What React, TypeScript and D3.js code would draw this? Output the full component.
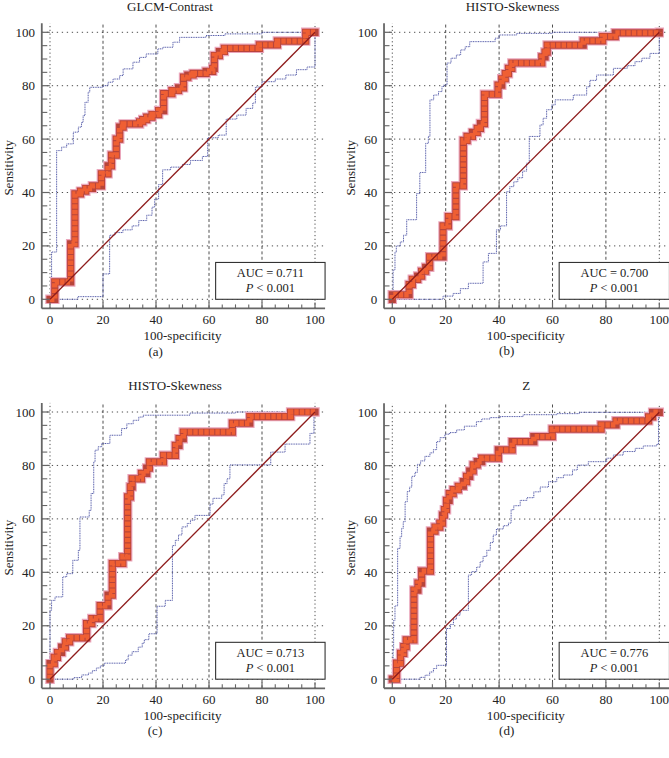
import React from 'react'
import * as d3 from 'd3'

type Pt = [number, number]

// ROC curves (100-specificity, sensitivity)
const rocA: Pt[] = [[0, 0], [1.8, 6.5], [7.8, 20.8], [9.4, 39.5], [11.5, 40.5], [13.5, 41.5], [16, 42.5], [19.4, 47], [21.9, 50], [23.2, 54], [25, 60], [26.3, 64.5], [27.6, 65.7], [33.8, 66.5], [35, 67.3], [36.5, 68.2], [38.5, 69.2], [41, 70.7], [42.9, 77], [46, 78.2], [48.5, 79.2], [50.4, 83.2], [52, 84], [54, 84.6], [58.9, 85.4], [61.4, 86.5], [62, 91.3], [63.9, 92.8], [65.8, 94], [79, 95.3], [85.8, 96.7], [96.5, 100], [100, 100]]
const upperA: Pt[] = [[0, 0], [0.6, 17.7], [2.5, 55.7], [4.4, 57], [6.3, 58.2], [8.8, 62.6], [10.7, 64.5], [11.9, 66.3], [12.5, 68.8], [13.2, 73.8], [14.4, 77.6], [15, 79.4], [20, 80], [21.9, 81.3], [23.8, 82.5], [26.3, 83.8], [27.6, 86.3], [31.3, 88.8], [33.8, 90.6], [36.3, 91.9], [40.7, 93.8], [42.6, 94.4], [46.4, 96.3], [48.9, 98.1], [58.9, 98.8], [66, 99.4], [80, 100], [100, 100]]
const lowerA: Pt[] = [[0, 0], [10.5, 1], [20, 9.5], [22.5, 24], [24.5, 25], [27.5, 26], [31, 27.5], [33.5, 29.5], [36.5, 31.5], [38.5, 34.5], [39.5, 37.5], [41, 43], [42.5, 48.5], [45.5, 49.5], [50, 50.5], [53, 52], [57.5, 53.5], [59.5, 60.5], [63.5, 61.5], [66.5, 67.5], [70.5, 69], [74, 71.5], [76.5, 73.5], [77.5, 79.5], [80, 81.5], [85, 82.5], [89, 84], [93, 86], [97, 87], [100, 100]]

const rocB: Pt[] = [[0, 0], [0, 1.7], [6.3, 5.5], [7.5, 7.5], [9.5, 8.7], [11, 10.5], [12.5, 12], [14, 15.9], [19, 27.5], [21, 31], [23.8, 42.5], [26.6, 59.5], [28, 61], [30, 62.5], [31.8, 64], [33, 65.8], [34.5, 76.8], [39.6, 80.2], [41, 82.6], [42.3, 84.5], [43.5, 86.5], [44.8, 88.5], [56, 90.8], [57.2, 92.6], [58, 95.2], [71.5, 96.8], [78.8, 98.4], [83.5, 99.8], [100, 100]]
const upperB: Pt[] = [[0, 0], [0.3, 11], [1, 17.7], [1.5, 20], [3, 21.5], [4.2, 24], [5.4, 29.8], [9.1, 39.6], [10.3, 47.5], [12.5, 58.4], [13.5, 61], [14.1, 74.7], [15.5, 76.5], [17.3, 77.8], [18.6, 79.7], [19.3, 80.3], [20.5, 88.5], [22, 90.3], [24, 91.5], [25.6, 93.4], [27.3, 94.6], [29, 96.5], [38.5, 97.8], [40, 99], [46.6, 99.6], [60, 100], [100, 100]]
const lowerB: Pt[] = [[0, 0], [19, 1.2], [22.8, 2.2], [25.5, 4], [28.5, 6], [34, 14], [36, 17.2], [39, 26], [40.5, 27.5], [42.8, 40.3], [44, 42.2], [45.5, 44], [47, 45.5], [48.8, 48], [50.3, 51], [51.3, 61], [55.3, 65.3], [56.5, 67.8], [57.8, 71], [59.7, 72.8], [61, 74.7], [67.8, 76.5], [72.8, 79.6], [74, 82], [76.5, 84], [82.8, 86.5], [88, 87.5], [90.9, 89], [93.5, 90.3], [96.5, 92.1], [100, 100]]

const rocC: Pt[] = [[0, 0], [0, 5.8], [1.6, 8.2], [2.8, 10], [4.4, 12], [5.8, 14], [7.4, 15.5], [13.8, 20.8], [15.8, 22.7], [18.9, 27.5], [21.9, 31.5], [23.5, 43.3], [27.5, 45.8], [29.3, 68.2], [30.3, 72], [31, 75], [34.5, 77], [36.5, 79], [37.5, 81.3], [42.8, 83.8], [47.3, 87.5], [48.7, 90], [50.3, 92.5], [68.8, 95.8], [75.4, 98.3], [90.8, 100], [100, 100]]
const upperC: Pt[] = [[0, 0], [0, 25.8], [0.6, 29.5], [1.9, 30.8], [4.8, 38.3], [6.3, 39.5], [8.6, 44.5], [10.7, 48.3], [11.3, 60.7], [14.8, 63.2], [15.5, 69.5], [16.5, 81.3], [17, 85.7], [18.2, 87], [19.5, 88.2], [22.6, 91.3], [27, 93.8], [29, 95.6], [31.4, 96.9], [33.5, 98.1], [35.2, 98.8], [52.8, 99.6], [70, 100], [100, 100]]
const lowerC: Pt[] = [[0, 0], [9, 0.6], [12, 1.6], [14.5, 2.3], [16, 3.2], [17.5, 4.2], [19, 5], [20.5, 6], [28.5, 7.2], [29.5, 9], [31, 10.3], [33.3, 12], [34.8, 13.5], [35.6, 14.8], [37.3, 17], [40.4, 27.3], [43.5, 29.5], [46.2, 50], [47.3, 52], [48.5, 54], [49.8, 57], [51.8, 58.3], [53, 59.5], [54.7, 61.3], [60.4, 65.5], [61.5, 67.7], [64.8, 69], [65.7, 73.2], [66.8, 75], [67.9, 80.2], [83.3, 85], [88.7, 88], [98.1, 92], [99.6, 100], [100, 100]]

const rocD: Pt[] = [[0, 0], [1.6, 6], [3.1, 9.7], [4.3, 12.2], [5.2, 14.7], [8.1, 33.4], [9.6, 36], [11, 40.5], [14.3, 55.5], [16, 57], [17.8, 58.5], [18.8, 61.5], [19.5, 63.5], [20.3, 67], [21.3, 69.5], [22.8, 71], [24.7, 72.3], [26.6, 74], [27.8, 76], [29, 78], [30.3, 80.3], [31.8, 81.5], [33.5, 82.8], [39.7, 85.9], [44.9, 89], [53, 90.9], [59.9, 93.7], [78.2, 95.3], [83.8, 96.8], [96, 98.3], [97.5, 100], [100, 100]]
const upperD: Pt[] = [[0, 0], [0.3, 11], [0.5, 22], [1, 27.5], [2, 49], [2.9, 53.4], [3.5, 56.5], [4.1, 59], [4.8, 66.5], [5.6, 70.3], [6.5, 72], [7.3, 76], [8.5, 77.5], [9.4, 80.5], [10.6, 81.8], [12.2, 83.5], [14.1, 84.8], [15.4, 86], [16.6, 89], [17.9, 90.5], [19.7, 91.8], [21.5, 92.4], [24.1, 93.4], [27, 94.8], [31.5, 96.5], [33.5, 97.5], [36.6, 98], [40.4, 98.4], [49, 99.1], [61.6, 99.5], [70, 100], [100, 100]]
const lowerD: Pt[] = [[0, 0], [10.4, 0.7], [12.3, 1.5], [14, 2.7], [15.4, 4], [16.6, 5.2], [20.3, 19], [21.8, 20.5], [22.9, 22.5], [24, 24], [25.4, 25.8], [28.5, 39], [29.7, 40.3], [31.6, 42], [32.9, 44], [34, 46], [35.4, 48.3], [36.7, 51.2], [37.8, 54], [39, 56.3], [41.6, 57.5], [43.5, 58.5], [44.5, 63.5], [45.5, 65], [47.9, 67], [50.4, 68], [53, 70.2], [55.4, 72], [58.5, 74], [61.6, 75.5], [64.1, 76.5], [67.5, 78.4], [69.3, 80.2], [73.4, 81.5], [80.3, 82.8], [82.8, 84], [86.5, 85.3], [91, 86.5], [94, 87.4], [99, 88], [99.7, 100], [100, 100]]

const titles = ['GLCM-Contrast', 'HISTO-Skewness', 'HISTO-Skewness', 'Z']
const aucValues = ['0.711', '0.700', '0.713', '0.776']
const pValues = ['0.001', '0.001', '0.001', '0.001']
const panelLetters = ['(a)', '(b)', '(c)', '(d)']
const majorTicks = [0, 20, 40, 60, 80, 100]
const minorTicks = [5, 10, 15, 25, 30, 35, 45, 50, 55, 65, 70, 75, 85, 90, 95]

const curves = [
    { roc: rocA, upper: upperA, lower: lowerA },
    { roc: rocB, upper: upperB, lower: lowerB },
    { roc: rocC, upper: upperC, lower: lowerC },
    { roc: rocD, upper: upperD, lower: lowerD },
]

// pixel layout of each panel
const layout = [
    { x0: 50, x1: 315, y0: 299.3, y1: 32.3, title: [170, 10.5], letter: [155.7, 356] },
    { x0: 392.3, x1: 659.3, y0: 299.3, y1: 32.3, title: [512.5, 10.5], letter: [506.7, 355] },
    { x0: 50, x1: 315, y0: 679.2, y1: 412, title: [175, 389.5], letter: [155, 735] },
    { x0: 392.3, x1: 659.3, y0: 679.2, y1: 412.3, title: [526.3, 389.5], letter: [506.7, 735] },
]

const FONT = "'Liberation Serif', 'Times New Roman', serif"
const BLUE = '#4f56a6'
const AXIS = '#666'

function Panel({ i }: { i: number }) {
    const L = layout[i]
    const c = curves[i]

    const x = d3.scaleLinear().domain([0, 100]).range([L.x0, L.x1])
    const y = d3.scaleLinear().domain([0, 100]).range([L.y0, L.y1])
    const line = d3.line<Pt>().x(d => x(d[0])).y(d => y(d[1])).curve(d3.curveStepAfter)

    const xL = x(-3.1), xR = x(103.8)
    const yB = y(-3.4), yT = y(103.4)

    const rocPath = line(c.roc) || ''
    const boxX = x(62.5), boxY = y(13.8)

    return (
        <g>
            {/* title */}
            <text x={L.title[0]} y={L.title[1]} textAnchor="middle" fontSize={13} fill="#222">{titles[i]}</text>

            {/* grid */}
            {majorTicks.map(t => (
                <line key={'h' + t} x1={xL} x2={xR} y1={y(t)} y2={y(t)}
                    stroke="#222" strokeWidth={0.8} strokeDasharray="1.3 3.7" />
            ))}
            {majorTicks.map(t => (
                <line key={'v' + t} x1={x(t)} x2={x(t)} y1={yB} y2={yT}
                    stroke="#222" strokeWidth={0.8}
                    strokeDasharray={t === 0 || t === 100 ? '1.2 2.6' : '3 2.4'} />
            ))}

            {/* confidence bounds */}
            <path d={line(c.upper) || ''} fill="none" stroke={BLUE} strokeWidth={1} strokeDasharray="1 0.7" />
            <path d={line(c.lower) || ''} fill="none" stroke={BLUE} strokeWidth={1} strokeDasharray="1 0.7" />

            {/* ROC curve with square markers */}
            <path d={rocPath} fill="none" stroke="#eba6bb" strokeWidth={9.5} strokeLinejoin="miter" strokeLinecap="square" />
            <path d={rocPath} fill="none" stroke="#b8443a" strokeWidth={7.2} strokeLinejoin="miter" strokeLinecap="square" />
            <path d={rocPath} fill="none" stroke="#ef5f33" strokeWidth={5.4} strokeLinejoin="miter" strokeDasharray="4.4 1.1" />

            {/* reference diagonal */}
            <line x1={x(0)} y1={y(0)} x2={x(100)} y2={y(100)} stroke="#8e1c1c" strokeWidth={1.3} />

            {/* AUC box */}
            <rect x={boxX} y={boxY} width={xR - boxX} height={y(0) - boxY} fill="#fff" stroke="#333" strokeWidth={1.1} />
            <text x={(boxX + xR) / 2} y={boxY + 14.5} textAnchor="middle" fontSize={12.5} fill="#222">AUC = {aucValues[i]}</text>
            <text x={(boxX + xR) / 2} y={boxY + 29.5} textAnchor="middle" fontSize={12.5} fill="#222">
                <tspan fontStyle="italic">P</tspan> &lt; {pValues[i]}
            </text>

            {/* axes */}
            <line x1={xL} x2={xL} y1={yT} y2={yB} stroke={AXIS} strokeWidth={1.8} />
            <line x1={xL} x2={xR} y1={yB} y2={yB} stroke={AXIS} strokeWidth={1.8} />
            {majorTicks.map(t => (
                <line key={'yt' + t} x1={xL} x2={xL + 8} y1={y(t)} y2={y(t)} stroke={AXIS} strokeWidth={1.2} />
            ))}
            {minorTicks.map(t => (
                <line key={'ym' + t} x1={xL} x2={xL + 5.5} y1={y(t)} y2={y(t)} stroke={AXIS} strokeWidth={1.1} />
            ))}
            {majorTicks.map(t => (
                <line key={'xt' + t} x1={x(t)} x2={x(t)} y1={yB} y2={yB - 6} stroke={AXIS} strokeWidth={1.2} />
            ))}
            {minorTicks.map(t => (
                <line key={'xm' + t} x1={x(t)} x2={x(t)} y1={yB} y2={yB - 4} stroke={AXIS} strokeWidth={1.1} />
            ))}

            {/* tick labels */}
            {majorTicks.map(t => (
                <text key={'yl' + t} x={L.x0 - 15} y={y(t)} dy="0.35em" textAnchor="end" fontSize={13} fill="#222">{t}</text>
            ))}
            {majorTicks.map(t => (
                <text key={'xl' + t} x={x(t)} y={L.y0 + 24.5} textAnchor="middle" fontSize={13} fill="#222">{t}</text>
            ))}

            {/* axis titles */}
            <text x={(L.x0 + L.x1) / 2} y={L.y0 + 40.5} textAnchor="middle" fontSize={13} fill="#222">100-specificity</text>
            <text transform={`translate(${L.x0 - 37},${(L.y0 + L.y1) / 2 + 2}) rotate(-90)`} textAnchor="middle" fontSize={13} fill="#222">Sensitivity</text>

            {/* panel letter */}
            <text x={L.letter[0]} y={L.letter[1]} textAnchor="middle" fontSize={13} fill="#222">{panelLetters[i]}</text>
        </g>
    )
}

export default function App() {
    return (
        <svg width={669} height={758} fontFamily={FONT}
            style={{ position: 'absolute', left: 0, top: 0, background: '#fff', display: 'block' }}>
            {curves.map((_, i) => <Panel key={i} i={i} />)}
        </svg>
    )
}
